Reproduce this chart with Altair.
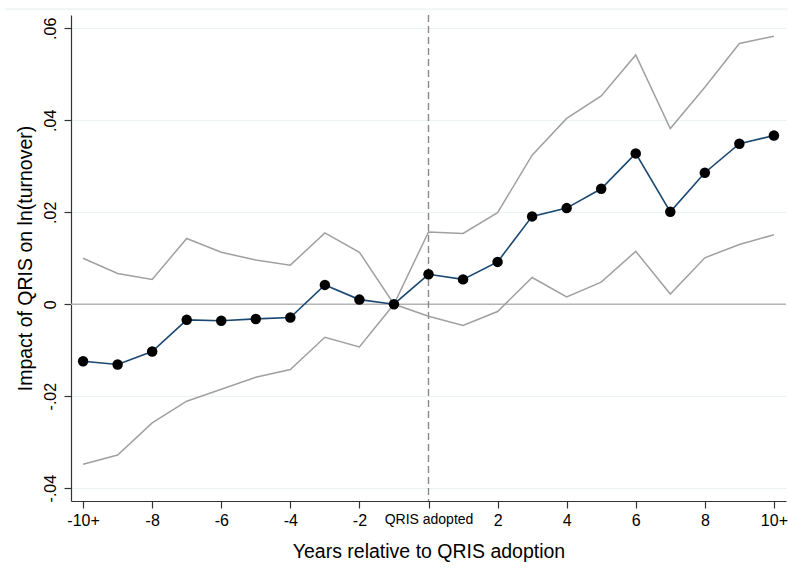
import altair as alt
import pandas as pd

years = list(range(-10, 11))
coef = [-0.0124, -0.0131, -0.0103, -0.0034, -0.0036, -0.0032, -0.0029, 0.0042, 0.0010, 0.0,
        0.0065, 0.0054, 0.0092, 0.0191, 0.0209, 0.0251, 0.0328, 0.0201, 0.0286, 0.0349, 0.0367]
ci_hi = [0.0100, 0.0067, 0.0054, 0.0143, 0.0113, 0.0096, 0.0085, 0.0155, 0.0113, 0.0,
         0.0157, 0.0154, 0.0199, 0.0324, 0.0404, 0.0453, 0.0542, 0.0382, 0.0472, 0.0567, 0.0583]
ci_lo = [-0.0348, -0.0328, -0.0258, -0.0211, -0.0185, -0.0159, -0.0142, -0.0072, -0.0093, 0.0,
         -0.0026, -0.0046, -0.0016, 0.0058, 0.0016, 0.0048, 0.0115, 0.0022, 0.0101, 0.0130, 0.0151]

x_tick_values = list(range(-10, 11))
x_label_values = [-10, -8, -6, -4, -2, 0, 2, 4, 6, 8, 10]
x_label_texts = ["-10+", "-8", "-6", "-4", "-2", "QRIS adopted", "2", "4", "6", "8", "10+"]
y_tick_values = [-0.04, -0.02, 0.0, 0.02, 0.04, 0.06]
y_tick_texts = ["-.04", "-.02", "0", ".02", ".04", ".06"]

df = pd.DataFrame({"year": years, "coef": coef, "hi": ci_hi, "lo": ci_lo})

x_map = "{" + ",".join(f"'{v}':'{t}'" for v, t in zip(x_label_values, x_label_texts)) + "}"
x_expr = f"({x_map})[toString(datum.value)] || ''"
y_map = "{" + ",".join(f"'{round(v*100)}':'{t}'" for v, t in zip(y_tick_values, y_tick_texts)) + "}"
y_expr = f"({y_map})[toString(round(datum.value*100))] || ''"

FONT = "Liberation Sans"
xscale = alt.Scale(domain=[-10.35, 10.35], nice=False, zero=False)
yscale = alt.Scale(domain=[-0.0428, 0.0629], nice=False, zero=False)

xax = alt.Axis(values=x_tick_values, labelExpr=x_expr, labelOverlap=False, labelFlush=False,
               grid=False, title="Years relative to QRIS adoption", titlePadding=14,
               labelPadding=4,
               labelFontSize={"condition": {"test": "datum.value == 0", "value": 14}, "value": 16})
yax = alt.Axis(values=y_tick_values, labelExpr=y_expr, labelAngle=-90, labelAlign="center",
               labelBaseline="bottom", labelPadding=6, grid=True, labelFontSize=16,
               title="Impact of QRIS on ln(turnover)", titlePadding=7)

base = alt.Chart(df)

hi_line = base.mark_line(color="#a0a0a0", strokeWidth=1.5).encode(
    x=alt.X("year:Q", scale=xscale, axis=xax),
    y=alt.Y("hi:Q", scale=yscale, axis=yax),
)
lo_line = base.mark_line(color="#a0a0a0", strokeWidth=1.5).encode(
    x=alt.X("year:Q", scale=xscale),
    y=alt.Y("lo:Q", scale=yscale),
)
main_line = base.mark_line(color="#1a476f", strokeWidth=1.6).encode(
    x=alt.X("year:Q", scale=xscale),
    y=alt.Y("coef:Q", scale=yscale),
)
pts = base.mark_circle(color="black", size=110, opacity=1).encode(
    x=alt.X("year:Q", scale=xscale),
    y=alt.Y("coef:Q", scale=yscale),
)

ref = pd.DataFrame({"zero": [0.0]})
zero_rule = alt.Chart(ref).mark_rule(color="#b4b4b4", strokeWidth=1.5).encode(
    y=alt.Y("zero:Q", scale=yscale)
)
vline = alt.Chart(ref).mark_rule(color="#8a8a8a", strokeWidth=1.4, strokeDash=[7, 4]).encode(
    x=alt.X("zero:Q", scale=xscale)
)
top_border = alt.Chart(ref).mark_rule(color="#e6eef0", strokeWidth=1).encode(
    y=alt.value(-6), x=alt.value(-66), x2=alt.value(717)
)

chart = alt.layer(zero_rule, vline, hi_line, lo_line, main_line, pts, top_border).properties(
    width=715, height=486,
    autosize=alt.AutoSizeParams(type="none"),
    padding={"left": 71, "top": 15, "right": 2, "bottom": 75},
    background="white",
).configure_view(stroke=None).configure_axis(
    labelFont=FONT, titleFont=FONT, titleFontSize=19.5,
    labelColor="black", titleColor="black", titleFontWeight="normal",
    domainColor="#333333", domainWidth=1.2, tickColor="#333333", tickWidth=1.2, tickSize=7,
    gridColor="#eaf2f3", gridWidth=1.2,
)

chart.save("out.html", embed_options={"renderer": "svg", "actions": False})
